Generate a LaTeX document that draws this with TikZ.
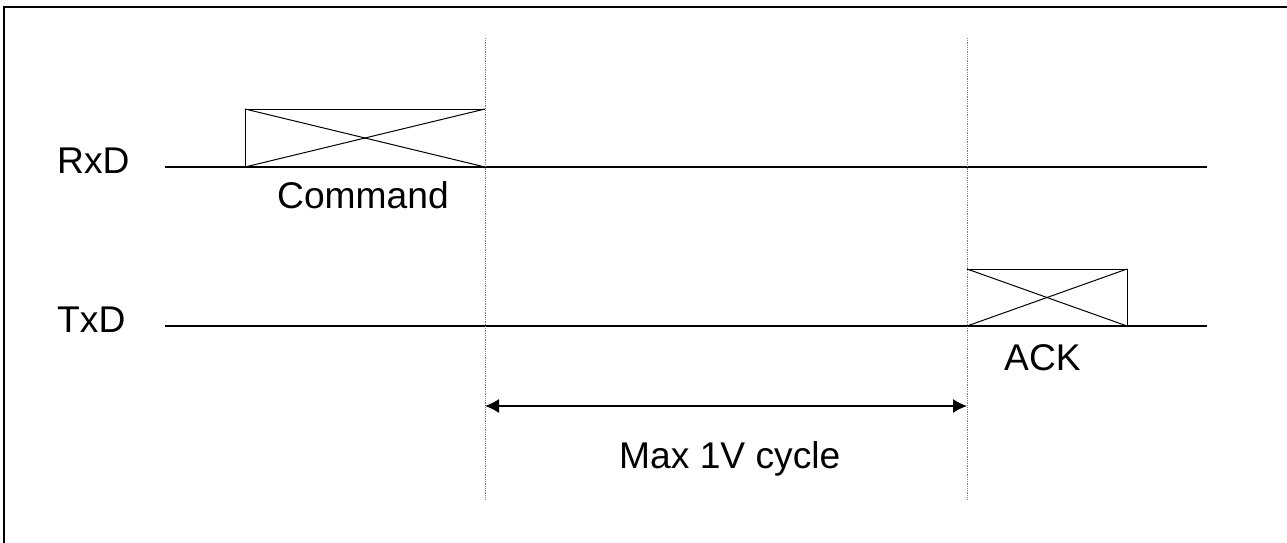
\documentclass[tikz,border=0pt]{standalone}
\usepackage{fontspec}
\setmainfont{Liberation Sans}
\usetikzlibrary{arrows.meta}
\begin{document}
\begin{tikzpicture}[x=1pt,y=-1pt,
  sig/.style={line width=1.3pt, black},
  boxline/.style={line width=1pt, black},
  guide/.style={densely dotted, gray, line width=0.8pt},
  lbl/.style={font=\fontsize{37.2}{44}\selectfont, inner sep=0pt, anchor=base west},
  dimarrow/.style={line width=1.3pt, {Latex[length=14pt,width=14pt]}-{Latex[length=14pt,width=14pt]}}]
\useasboundingbox (0,0) rectangle (1287,543);
\clip (0,0) rectangle (1287,543);
\draw[line width=1.5pt] (4,7) rectangle (1300,560);
% signal lines
\coordinate (rxs) at (165,167); \coordinate (rxe) at (1207,167);
\coordinate (txs) at (165,326); \coordinate (txe) at (1207,326);
\draw[sig] (rxs) -- (rxe);
\draw[sig] (txs) -- (txe);
% guides
\coordinate (g1t) at (485,38); \coordinate (g1b) at (485,500);
\coordinate (g2t) at (967,38); \coordinate (g2b) at (967,500);
\draw[guide] (g1t) -- (g1b);
\draw[guide] (g2t) -- (g2b);
% command box
\coordinate (c1) at (245,167); \coordinate (c2) at (245,109);
\coordinate (c3) at (485,109); \coordinate (c4) at (485,167);
\draw[boxline] (c1) -- (c2) -- (c3);
\draw[boxline] (c2) -- (c4);
\draw[boxline] (c1) -- (c3);
% ack box
\coordinate (a1) at (967,326); \coordinate (a2) at (967,269);
\coordinate (a3) at (1127,269); \coordinate (a4) at (1127,326);
\draw[boxline] (a2) -- (a3) -- (a4);
\draw[boxline] (a2) -- (a4);
\draw[boxline] (a1) -- (a3);
% dimension arrow
\coordinate (m1) at (485,406); \coordinate (m2) at (967,406);
\draw[dimarrow] (m1) -- (m2);
% labels
\node[lbl] (rxd) at (57,173) {RxD};
\node[lbl] (txd) at (57,332) {TxD};
\node[lbl] (cmd) at (277,208) {Command};
\node[lbl] (ack) at (1004,370) {ACK};
\node[lbl] (max) at (619,468) {Max 1V cycle};
\end{tikzpicture}
\end{document}
